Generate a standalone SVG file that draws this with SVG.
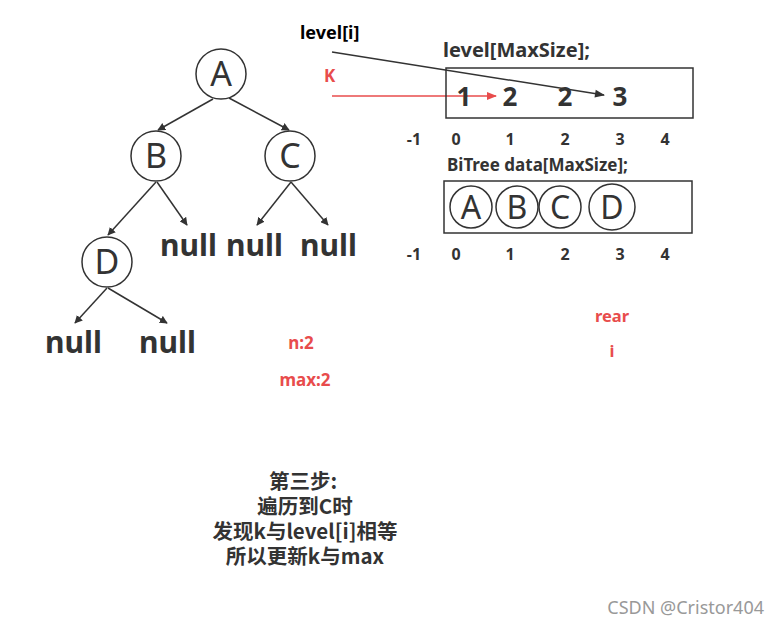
<svg xmlns="http://www.w3.org/2000/svg" width="779" height="624" viewBox="0 0 779 624">
<defs>
<style>
.t{font-family:"Noto Sans","Open Sans","Liberation Sans",sans-serif;fill:#333}
.b{font-weight:bold}
.red{fill:#e84c4c}
.node{fill:#fff;stroke:#333;stroke-width:1.5}
.nl{font-size:34px;text-anchor:middle}
.null{font-size:30px;font-weight:bold}
.idx{font-size:16px;font-weight:bold;text-anchor:middle}
.cn{font-family:"Noto Sans CJK SC","Noto Sans",sans-serif;font-size:20.5px;font-weight:bold;text-anchor:middle;fill:#333}
.edge{stroke:#333;stroke-width:1.5;fill:none;marker-end:url(#ah)}
</style>
<marker id="ah" viewBox="0 0 10 10" refX="9" refY="5" markerWidth="8" markerHeight="8" markerUnits="userSpaceOnUse" orient="auto"><path d="M0,0 L10,5 L0,10 z" fill="#333"/></marker>
<marker id="ah2" viewBox="0 0 10 10" refX="9" refY="5" markerWidth="14" markerHeight="10" markerUnits="userSpaceOnUse" orient="auto"><path d="M0,1 L10,5 L0,9 z" fill="#333"/></marker>
<marker id="ahr" viewBox="0 0 10 10" refX="9" refY="5" markerWidth="14" markerHeight="10" markerUnits="userSpaceOnUse" orient="auto"><path d="M0,1 L10,5 L0,9 z" fill="#e84c4c"/></marker>
</defs>
<rect width="779" height="624" fill="#fff"/>
<g id="connectors">
<line class="edge" x1="213" y1="99" x2="158" y2="130"/>
<line class="edge" x1="229" y1="98" x2="289" y2="130"/>
<line class="edge" x1="156" y1="182" x2="108" y2="235"/>
<line class="edge" x1="157" y1="182" x2="187" y2="225"/>
<line class="edge" x1="291" y1="182" x2="257" y2="225"/>
<line class="edge" x1="291" y1="182" x2="328" y2="225"/>
<line class="edge" x1="107" y1="288" x2="75" y2="323"/>
<line class="edge" x1="108" y1="288" x2="167" y2="323"/>
<line x1="332" y1="52" x2="604" y2="95" stroke="#333" stroke-width="1.5" marker-end="url(#ah2)"/>
<line x1="332" y1="96" x2="496" y2="96" stroke="#e84c4c" stroke-width="1.5" marker-end="url(#ahr)"/>
</g>
<g id="nodeA"><circle class="node" cx="221" cy="74" r="25"/><text class="t nl" x="221" y="86">A</text></g>
<g id="nodeB"><circle class="node" cx="156" cy="156" r="25"/><text class="t nl" x="156" y="168">B</text></g>
<g id="nodeC"><circle class="node" cx="290" cy="156" r="25"/><text class="t nl" x="290" y="168">C</text></g>
<g id="nodeD"><circle class="node" cx="107" cy="262" r="25"/><text class="t nl" x="107" y="274">D</text></g>
<g id="nulls">
<text class="t null" x="160" y="256">null</text>
<text class="t null" x="226" y="256">null</text>
<text class="t null" x="300" y="256">null</text>
<text class="t null" x="45" y="353">null</text>
<text class="t null" x="139" y="353">null</text>
</g>
<g id="level">
<text class="t b" x="300" y="39" style="font-size:18px;fill:#000">level[i]</text>
<text class="t b red" x="324" y="82" style="font-size:17px">K</text>
<text class="t b" x="443" y="57" style="font-size:20px">level[MaxSize];</text>
<rect x="446" y="68" width="247" height="50" fill="none" stroke="#333" stroke-width="1.5"/>
<text class="t b" x="464" y="106" style="font-size:26px;text-anchor:middle">1</text>
<text class="t b" x="510" y="106" style="font-size:26px;text-anchor:middle">2</text>
<text class="t b" x="565" y="106" style="font-size:26px;text-anchor:middle">2</text>
<text class="t b" x="620" y="106" style="font-size:26px;text-anchor:middle">3</text>
<text class="t idx" x="414" y="145">-1</text>
<text class="t idx" x="456" y="145">0</text>
<text class="t idx" x="510" y="145">1</text>
<text class="t idx" x="565" y="145">2</text>
<text class="t idx" x="620" y="145">3</text>
<text class="t idx" x="665" y="145">4</text>
</g>
<g id="data">
<text class="t b" x="447" y="171" style="font-size:17px">BiTree data[MaxSize];</text>
<rect x="444" y="181" width="248" height="52" fill="none" stroke="#333" stroke-width="1.5"/>
<circle class="node" cx="471" cy="207" r="21"/><text class="t" x="471" y="219" style="font-size:32px;text-anchor:middle">A</text>
<circle class="node" cx="517" cy="207" r="21"/><text class="t" x="517" y="219" style="font-size:32px;text-anchor:middle">B</text>
<circle class="node" cx="560" cy="207" r="21"/><text class="t" x="560" y="219" style="font-size:32px;text-anchor:middle">C</text>
<circle class="node" cx="612" cy="207" r="23"/><text class="t" x="612" y="219" style="font-size:32px;text-anchor:middle">D</text>
<text class="t idx" x="414" y="260">-1</text>
<text class="t idx" x="456" y="260">0</text>
<text class="t idx" x="510" y="260">1</text>
<text class="t idx" x="565" y="260">2</text>
<text class="t idx" x="620" y="260">3</text>
<text class="t idx" x="665" y="260">4</text>
</g>
<g id="vars">
<text class="t b red" x="612" y="322" style="font-size:16.5px;text-anchor:middle">rear</text>
<text class="t b red" x="612" y="357" style="font-size:16.5px;text-anchor:middle">i</text>
<text class="t b red" x="301" y="349" style="font-size:17px;text-anchor:middle">n:2</text>
<text class="t b red" x="305" y="386" style="font-size:17px;text-anchor:middle">max:2</text>
</g>
<g id="caption">
<text class="cn" x="303" y="489">第三步:</text>
<text class="cn" x="305" y="514">遍历到C时</text>
<text class="cn" x="305" y="539">发现k与level[i]相等</text>
<text class="cn" x="305" y="564">所以更新k与max</text>
</g>
<text x="764" y="614" style="font-family:'Noto Sans','Liberation Sans',sans-serif;font-size:18px;fill:#999;text-anchor:end">CSDN @Cristor404</text>
</svg>
